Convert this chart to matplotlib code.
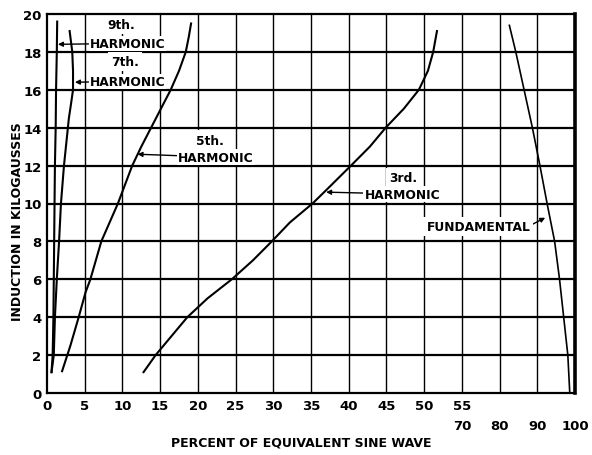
import numpy as np
import matplotlib
matplotlib.use("Agg")
import matplotlib.pyplot as plt

# ---- data (percent of equivalent sine wave, induction in kilogausses) ----
h9_x = [0.6, 0.75, 0.85, 0.95, 1.05, 1.15, 1.2, 1.3, 1.35]
h9_y = [1.1, 2, 4, 8, 12, 14, 16, 18, 19.6]

h7_x = [0.6, 0.9, 1.05, 1.3, 1.6, 1.85, 2.25, 2.9, 3.2, 3.45, 3.45, 3.35, 3.0]
h7_y = [1.1, 2, 4, 6, 8, 10, 12, 14.5, 15.3, 16, 17, 18, 19.1]

h5_x = [2.0, 3.1, 4.2, 5.1, 5.75, 7.2, 8.3, 9.4, 11.3, 12.5, 13.8, 15.1, 16.4, 17.5, 18.4, 18.8, 19.1]
h5_y = [1.15, 2.5, 4, 5.3, 6, 8, 9, 10, 12, 13, 14, 15, 16, 17, 18, 18.8, 19.5]

h3_x = [12.8, 14.4, 16.5, 18.6, 21.3, 24.5, 27.3, 29.8, 32.2, 35.2, 37.0, 40.3, 42.8, 44.9, 47.3, 49.3, 50.5, 51.2, 51.7]
h3_y = [1.1, 2, 3, 4, 5, 6, 7, 8, 9, 10, 10.7, 12, 13, 14, 15, 16, 17, 18, 19.1]

fund_x = [82.6, 84.3, 86.5, 88.7, 90.7, 92.6, 94.6, 95.9, 97.0, 98.1, 98.6]
fund_y = [19.4, 18, 16, 14, 12, 10, 8, 6, 4, 2, 0.05]

xticks_low = [0, 5, 10, 15, 20, 25, 30, 35, 40, 45, 50, 55]
xticks_high = [70, 80, 90, 100]
yticks = [0, 2, 4, 6, 8, 10, 12, 14, 16, 18, 20]

# ---- broken x scale: 0-55 full scale, 70-100 at half scale ----
def fwd(x):
    x = np.asarray(x, dtype=float)
    return np.where(x <= 55, x, np.where(x >= 70, 55 + (x - 70) / 2.0, 55.0))

def inv(y):
    y = np.asarray(y, dtype=float)
    return np.where(y <= 55, y, 70 + (y - 55) * 2.0)

FONT = "DejaVu Sans"
plt.rcParams["font.family"] = [FONT]

fig = plt.figure(figsize=(5.92, 4.56), dpi=100)
ax = fig.add_axes([47 / 592, 1 - 394 / 456, (575 - 47) / 592, (394 - 15) / 456])
ax.set_xscale("function", functions=(fwd, inv))
ax.set_xlim(0, 100)
ax.set_ylim(0, 20)
ax.xaxis.remove_overlapping_locs = False

# grid
for yv in yticks[1:-1]:
    ax.axhline(yv, color="black", lw=1.6, zorder=1)
for xv in xticks_low[1:] + xticks_high[1:-1]:
    ax.axvline(xv, color="black", lw=1.0, zorder=1)

for s in ax.spines.values():
    s.set_linewidth(1.6)
    s.set_zorder(5)
ax.spines["right"].set_linewidth(2.6)

# ticks
ax.set_xticks(xticks_low)
ax.set_xticklabels([str(v) for v in xticks_low])
ax.set_xticks(xticks_high, minor=True)
ax.set_xticklabels([str(v) for v in xticks_high], minor=True)
ax.set_yticks(yticks)
ax.set_yticklabels([str(v) for v in yticks])
ax.tick_params(axis="both", which="both", length=0, labelsize=9.5)
ax.tick_params(axis="x", which="major", pad=4)
ax.tick_params(axis="x", which="minor", pad=19)
ax.tick_params(axis="y", pad=4)
for lab in ax.get_xticklabels(which="both") + ax.get_yticklabels():
    lab.set_fontweight("bold")

# curves
lw = 1.5
ax.plot(h9_x, h9_y, color="black", lw=lw, zorder=3)
ax.plot(h7_x, h7_y, color="black", lw=lw, zorder=3)
ax.plot(h5_x, h5_y, color="black", lw=lw, zorder=3)
ax.plot(h3_x, h3_y, color="black", lw=lw, zorder=3)
ax.plot(fund_x, fund_y, color="black", lw=1.2, zorder=3)

# labels
box = dict(facecolor="white", edgecolor="none", pad=0.8)
box_big = dict(facecolor="white", edgecolor="none", pad=2.3)
tkw = dict(fontsize=8.8, fontweight="bold", color="black", zorder=4)
arr = dict(arrowstyle="-|>", color="black", lw=1.0, mutation_scale=7, shrinkA=0, shrinkB=0)

ax.text(9.9, 19.45, "9th.", ha="center", va="center", bbox=box_big, **tkw)
ax.annotate("HARMONIC", xy=(1.45, 18.4), xytext=(5.66, 18.45), ha="left", va="center",
            bbox=box, arrowprops=arr, **tkw)
ax.text(10.3, 17.5, "7th.", ha="center", va="center", bbox=box_big, **tkw)
ax.annotate("HARMONIC", xy=(3.7, 16.4), xytext=(5.66, 16.45), ha="left", va="center",
            bbox=box, arrowprops=arr, **tkw)
ax.text(21.6, 13.35, "5th.", ha="center", va="center", bbox=box_big, **tkw)
ax.annotate("HARMONIC", xy=(12.0, 12.6), xytext=(17.4, 12.45), ha="left", va="center",
            bbox=box, arrowprops=arr, **tkw)
ax.text(47.2, 11.35, "3rd.", ha="center", va="center", bbox=box_big, **tkw)
ax.annotate("HARMONIC", xy=(37.0, 10.6), xytext=(42.1, 10.5), ha="left", va="center",
            bbox=box, arrowprops=arr, **tkw)
ax.text(50.3, 8.8, "FUNDAMENTAL", ha="left", va="center", bbox=box_big, **tkw)
ax.annotate("", xy=(92.1, 9.25), xytext=(88.2, 8.85), arrowprops=arr)

fig.text(301 / 592, 1 - 443 / 456, "PERCENT OF EQUIVALENT SINE WAVE", ha="center", va="center",
         fontsize=9, fontweight="bold")
fig.text(18 / 592, 1 - 222 / 456, "INDUCTION IN KILOGAUSSES", ha="center", va="center",
         rotation=90, fontsize=9, fontweight="bold")

fig.savefig("out.png", dpi=100, facecolor="white")
